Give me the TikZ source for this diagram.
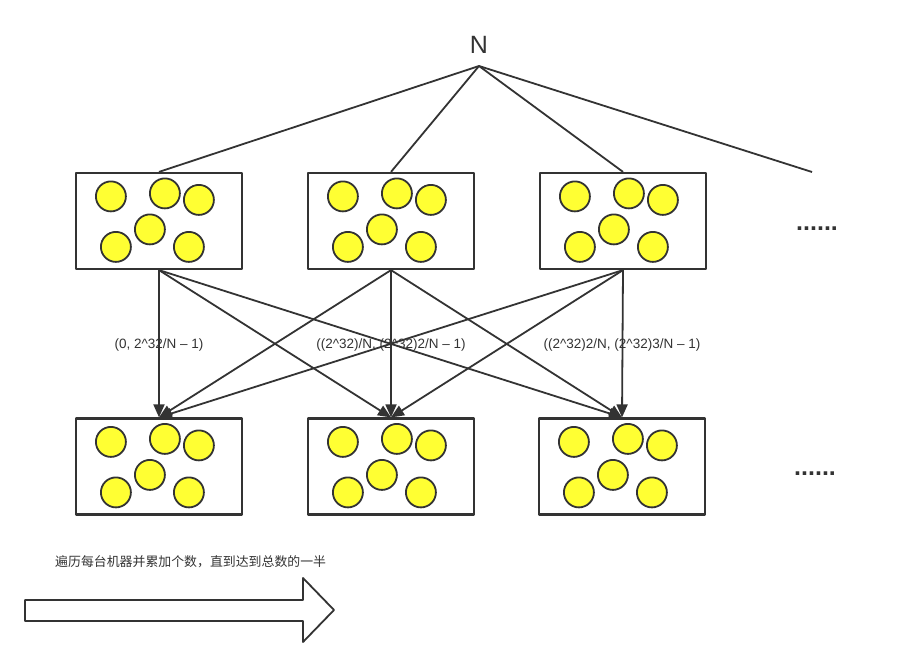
\documentclass[tikz,border=0pt]{standalone}
\usepackage{fontspec}
\setmainfont{Liberation Sans}
\newfontfamily\cjk{Noto Sans CJK SC}
\usetikzlibrary{arrows.meta}
\definecolor{ink}{HTML}{333333}
\definecolor{ballyellow}{HTML}{FFFF33}
\tikzset{
  machine/.style={draw=ink,line width=2.2pt,minimum width=166pt,minimum height=96pt,inner sep=0pt},
  ball/.style={draw=ink,line width=1.8pt,fill=ballyellow},
  link/.style={draw=ink,line width=1.8pt},
  flow/.style={link,-{Triangle[length=13pt,width=11pt]}},
  rangelabel/.style={font=\fontsize{13.5}{15}\selectfont,text=ink,inner sep=0pt},
}
\begin{document}
\begin{tikzpicture}[x=1pt,y=-1pt,line join=round]
    \useasboundingbox (0,0) rectangle (904,666);
    \node[font=\fontsize{25}{28}\selectfont,text=ink] (N) at (479,45) {N};
    \coordinate (apex) at (479,66);
    \coordinate (far) at (812,172);
    % machines
    \node[machine] (t1) at (159,221) {};
    \node[machine] (t2) at (391,221) {};
    \node[machine] (t3) at (623,221) {};
    \node[machine] (b1) at (159,466.5) {};
    \node[machine] (b2) at (391,466.5) {};
    \node[machine] (b3) at (622,466.5) {};
    \foreach \b in {t1,t2,t3,b1,b2,b3}
      \foreach \dx/\dy in {36/24.5,90/21.5,124/28,75/57.5,41/75,114/75}
        \draw[ball] ([shift={(\dx,\dy)}]\b.north west) circle (15);
    % split of N
    \draw[link] (apex) -- (t1.north);
    \draw[link] (apex) -- (t2.north);
    \draw[link] (apex) -- (t3.north);
    \draw[link] (apex) -- (far);
    % every machine to every range
    \foreach \s in {t1,t2,t3}
      \foreach \d in {b1,b2,b3}
        \draw[flow] (\s.south) -- (\d.north);
    \node[rangelabel] (r1) at (159,345) {(0, 2\^{}32/N – 1)};
    \node[rangelabel] (r2) at (391,345) {((2\^{}32)/N, (2\^{}32)2/N – 1)};
    \node[rangelabel] (r3) at (622,345) {((2\^{}32)2/N, (2\^{}32)3/N – 1)};
    \node[anchor=base west,inner sep=0pt,text=ink,font=\bfseries\fontsize{25}{28}\selectfont] (more1) at (796,230) {......};
    \node[anchor=base west,inner sep=0pt,text=ink,font=\bfseries\fontsize{25}{28}\selectfont] (more2) at (794,475) {......};
    % walk
    \node[anchor=west,inner sep=0pt,text=ink,font=\cjk\fontsize{12.9}{14}\selectfont] (walk) at (55,562) {遍历每台机器并累加个数，直到达到总数的一半};
    \draw[ink,line width=1.8pt,fill=white] (25,600) -- (303,600) -- (303,578) -- (334,610)
      -- (303,642) -- (303,621) -- (25,621) -- cycle;
\end{tikzpicture}
\end{document}
